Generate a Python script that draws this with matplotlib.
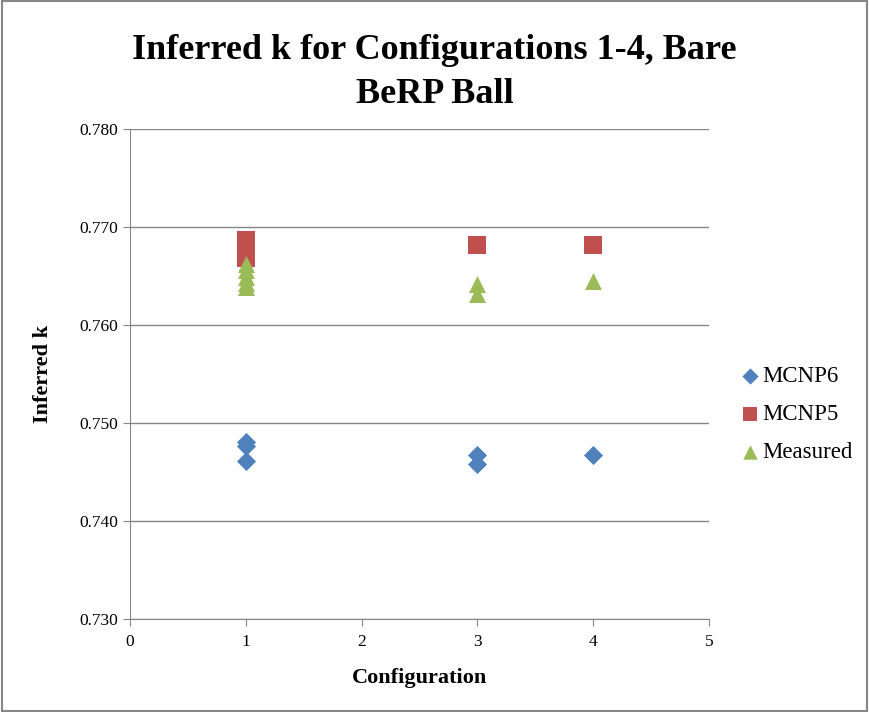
import numpy as np
import matplotlib.pyplot as plt

# data
mcnp6_x = [1, 1, 1, 3, 3, 4]
mcnp6_k = [0.7481, 0.7477, 0.7461, 0.7467, 0.7458, 0.7467]
mcnp5_x = [1, 1, 1, 1, 3, 4]
mcnp5_k = [0.7687, 0.7682, 0.7675, 0.7668, 0.7682, 0.7682]
meas_x = [1, 1, 1, 1, 1, 3, 3, 4]
meas_k = [0.7662, 0.7656, 0.7649, 0.7643, 0.7639, 0.7642, 0.7632, 0.7645]

plt.rcParams['font.family'] = ['Liberation Serif', 'DejaVu Serif']

fig = plt.figure(figsize=(8.69, 7.12), dpi=100)
ax = fig.add_axes([0.1496, 0.1306, 0.8159 - 0.1496, 0.8188 - 0.1306])

ax.scatter(mcnp6_x, mcnp6_k, marker='D', s=95, color='#4F81BD', label='MCNP6', zorder=3, linewidths=0)
ax.scatter(mcnp5_x, mcnp5_k, marker='s', s=150, color='#C0504D', label='MCNP5', zorder=3, linewidths=0)
ax.scatter(meas_x, meas_k, marker='^', s=150, color='#9BBB59', label='Measured', zorder=3, linewidths=0)

ax.set_xlim(0, 5)
ax.set_ylim(0.730, 0.780)
ax.set_xticks(range(0, 6))
ax.set_yticks(np.arange(0.730, 0.7801, 0.010))
ax.yaxis.set_major_formatter(plt.FuncFormatter(lambda v, p: f'{v:.3f}'))
ax.grid(axis='y', color='#868686', linewidth=1)
ax.set_axisbelow(True)
for s in ['top', 'right']:
    ax.spines[s].set_visible(False)
for s in ['left', 'bottom']:
    ax.spines[s].set_color('#868686')
ax.tick_params(axis='both', labelsize=12.5, color='#868686', length=5)
ax.tick_params(axis='x', pad=6)

ax.set_xlabel('Configuration', fontsize=16, fontweight='bold', labelpad=13)
ax.set_ylabel('Inferred k', fontsize=16, fontweight='bold', labelpad=19)
fig.suptitle('Inferred k for Configurations 1-4, Bare\nBeRP Ball', fontsize=26,
             fontweight='bold', y=0.952, linespacing=1.45)

ax.legend(loc='center left', bbox_to_anchor=(1.015, 0.417), frameon=False,
          fontsize=16.5, handletextpad=0.05, labelspacing=0.75, markerscale=0.85,
          handlelength=1.0)

# outer border of the chart area
fig.patches.append(plt.Rectangle((0.002, 0.002), 0.996, 0.996, transform=fig.transFigure,
                                 fill=False, edgecolor='#868686', linewidth=1.5))

fig.savefig('out.png', dpi=100)
